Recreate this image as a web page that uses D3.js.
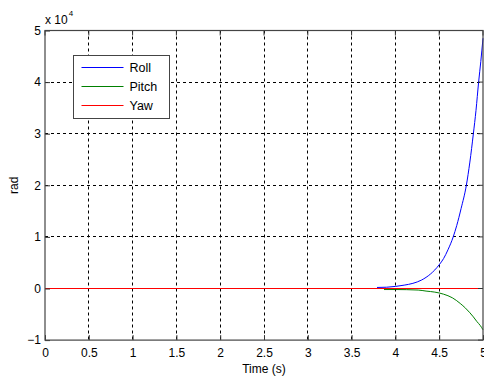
<!DOCTYPE html>
<html>
<head>
<meta charset="utf-8">
<script src="https://cdn.jsdelivr.net/npm/d3@7"></script>
<style>
  body { margin: 0; background: #fff; }
  text { font-family: Arial, "Liberation Sans", sans-serif; font-size: 12px; fill: #000; }
</style>
</head>
<body>
<div class="chart"></div>
<script>
// Width and height
const w = 484;
const h = 380;

// data, values in units of 1e4 rad
const xTicks = [0, 0.5, 1, 1.5, 2, 2.5, 3, 3.5, 4, 4.5, 5];
const yTicks = [-1, 0, 1, 2, 3, 4, 5];

const rollTime = [3.79, 3.9, 4.0, 4.1, 4.2, 4.3, 4.4, 4.45, 4.5, 4.55, 4.6, 4.66, 4.7, 4.75, 4.81, 4.85, 4.89, 4.92, 4.95, 4.975, 5.0];
const rollValue = [0.02, 0.025, 0.04, 0.065, 0.1, 0.165, 0.28, 0.36, 0.46, 0.58, 0.75, 1.0, 1.22, 1.55, 2.0, 2.45, 3.0, 3.45, 4.0, 4.4, 4.85];

const pitchTime = [3.87, 4.0, 4.26, 4.35, 4.45, 4.55, 4.65, 4.74, 4.8, 4.85, 4.89, 4.93, 4.97, 5.0];
const pitchValue = [-0.02, -0.02, -0.03, -0.05, -0.07, -0.11, -0.18, -0.29, -0.38, -0.47, -0.55, -0.64, -0.72, -0.8];

const yawTime = [0, 5];
const yawValue = [0, 0];

const series = [
  { name: "Roll", color: "#0000ff", t: rollTime, v: rollValue },
  { name: "Pitch", color: "#008000", t: pitchTime, v: pitchValue },
  { name: "Yaw", color: "#ff0000", t: yawTime, v: yawValue }
];

const svg = d3.select(".chart").append("svg").attr("width", w).attr("height", h);

const x = d3.scaleLinear().domain([0, 5]).range([45, 483]);
const y = d3.scaleLinear().domain([-1, 5]).range([340.1, 30.5]);

// snap to pixel centre
const px = v => Math.floor(v) + 0.5;

// grid lines (dotted)
const grid = svg.append("g").attr("stroke", "#000").attr("stroke-width", 1).attr("stroke-dasharray", "3,3");
grid.selectAll(".gx").data(xTicks.slice(1, -1)).enter().append("line")
  .attr("x1", d => px(x(d))).attr("x2", d => px(x(d)))
  .attr("y1", y(5)).attr("y2", y(-1));
grid.selectAll(".gy").data(yTicks.slice(1, -1)).enter().append("line")
  .attr("y1", d => px(y(d))).attr("y2", d => px(y(d)))
  .attr("x1", x(0)).attr("x2", x(5));

// lines
const line = d3.line().x(d => x(d[0])).y(d => y(d[1])).curve(d3.curveMonotoneX);
svg.append("g").selectAll("path").data(series.slice().reverse()).enter().append("path")
  .attr("d", s => line(d3.zip(s.t, s.v)))
  .attr("fill", "none")
  .attr("stroke", s => s.color)
  .attr("stroke-width", 1);

// axes
const xAxis = d3.axisBottom(x).tickValues(xTicks).tickSize(-5).tickSizeOuter(0).tickPadding(8)
  .tickFormat(d3.format("~g"));
const yAxis = d3.axisLeft(y).tickValues(yTicks).tickSize(-5).tickSizeOuter(0).tickPadding(4)
  .tickFormat(d3.format("~g"));

const gx = svg.append("g").attr("transform", `translate(0,${y(-1)})`).call(xAxis);
const gy = svg.append("g").attr("transform", `translate(${x(0)},0)`).call(yAxis);
[gx, gy].forEach(g => {
  g.select(".domain").remove();
  g.selectAll(".tick line").attr("stroke", "#333");
  g.selectAll("text").attr("fill", "#000").style("font-size", "12px").style("font-family", "Arial, 'Liberation Sans', sans-serif");
});

// top/right ticks
svg.append("g").selectAll("line").data(xTicks).enter().append("line")
  .attr("x1", d => x(d)).attr("x2", d => x(d)).attr("y1", y(5)).attr("y2", y(5) + 5).attr("stroke", "#333");
svg.append("g").selectAll("line").data(yTicks).enter().append("line")
  .attr("y1", d => y(d)).attr("y2", d => y(d)).attr("x1", x(5)).attr("x2", x(5) - 5).attr("stroke", "#333");

// box
svg.append("rect")
  .attr("x", x(0)).attr("y", y(5))
  .attr("width", x(5) - x(0)).attr("height", y(-1) - y(5))
  .attr("fill", "none").attr("stroke", "#444").attr("stroke-width", 1.2);

// exponent label
const exp = svg.append("text").attr("x", 45).attr("y", 24).style("font-size", "12px");
exp.append("tspan").text("x 10");
exp.append("tspan").attr("dy", -8).attr("dx", 1).style("font-size", "8px").text("4");

// axis labels
svg.append("text").attr("x", (x(0) + x(5)) / 2).attr("y", 373).attr("text-anchor", "middle")
  .style("font-size", "12px").text("Time (s)");
svg.append("text").attr("transform", `translate(18,${(y(5) + y(-1)) / 2}) rotate(-90)`)
  .attr("text-anchor", "middle").style("font-size", "12px").text("rad");

// legend
const legend = svg.append("g").attr("transform", "translate(73.5,55.5)");
legend.append("rect").attr("width", 96).attr("height", 63)
  .attr("fill", "#fff").attr("stroke", "#444").attr("stroke-width", 1);
const items = legend.selectAll(".item").data(series).enter().append("g")
  .attr("transform", (d, i) => `translate(0,${12 + i * 19})`);
items.append("line").attr("x1", 8).attr("x2", 50).attr("stroke", d => d.color).attr("stroke-width", 1);
items.append("text").attr("x", 56).attr("dy", "0.35em").style("font-size", "12.5px").text(d => d.name);
</script>
</body>
</html>
